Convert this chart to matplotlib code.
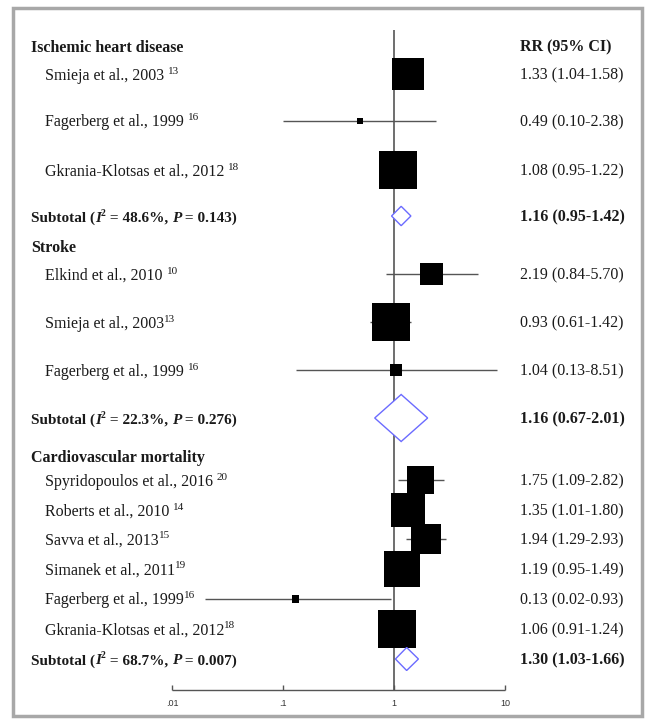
"""
Forest plot: relative risk of cardiovascular outcomes by study.
"""

import numpy as np
import matplotlib
matplotlib.use('Agg')
import matplotlib.pyplot as plt
from matplotlib.patches import Polygon, Rectangle

# data
groups = ['Ischemic heart disease', 'Stroke', 'Cardiovascular mortality']
study_names = ['Smieja et al., 2003 ', 'Fagerberg et al., 1999 ', 'Gkrania-Klotsas et al., 2012 ',
               'Elkind et al., 2010 ', 'Smieja et al., 2003', 'Fagerberg et al., 1999 ',
               'Spyridopoulos et al., 2016 ', 'Roberts et al., 2010 ', 'Savva et al., 2013',
               'Simanek et al., 2011', 'Fagerberg et al., 1999', 'Gkrania-Klotsas et al., 2012']
study_refs = ['13', '16', '18', '10', '13', '16', '20', '14', '15', '19', '16', '18']
rr = [1.33, 0.49, 1.08, 2.19, 0.93, 1.04, 1.75, 1.35, 1.94, 1.19, 0.13, 1.06]
rr_lo = [1.04, 0.10, 0.95, 0.84, 0.61, 0.13, 1.09, 1.01, 1.29, 0.95, 0.02, 0.91]
rr_hi = [1.58, 2.38, 1.22, 5.70, 1.42, 8.51, 2.82, 1.80, 2.93, 1.49, 0.93, 1.24]
weights = [70.9, 2.5, 100, 36.6, 100, 10, 50.5, 80, 62.3, 89.8, 3.4, 100]
sub_i2 = ['48.6%', '22.3%', '68.7%']
sub_p = ['0.143', '0.276', '0.007']
sub_rr = [1.16, 1.16, 1.30]
sub_lo = [0.95, 0.67, 1.03]
sub_hi = [1.42, 2.01, 1.66]
ticks = [0.01, 0.1, 1, 10]
tick_labels = ['.01', '.1', '1', '10']

# layout (pixel rows)
W, H = 647, 723
header_y = [46, 247, 456]
study_y = [74, 121, 170, 274, 322, 370, 480, 510, 539, 569, 599, 629]
sub_y = [216, 418, 659]
axis_y = 690
dec = 111  # pixels per decade
serif = 'Liberation Serif'
fsize = 11.5
sup_size = 8
txt_col = '#1a1a1a'

fig = plt.figure(figsize=(W / 100, H / 100), dpi=100)
ax = fig.add_axes([0, 0, 1, 1])
ax.set_xscale('log')
ax.set_xlim(10 ** (-2 - 172 / dec), 10 ** (1 + (W - 505) / dec))
ax.set_ylim(H, 0)
ax.axis('off')
tr = ax.get_yaxis_transform()
renderer = fig.canvas.get_renderer()


def text_width(s, **kw):
    # measure with a sentinel so trailing spaces count
    t1 = ax.text(0, 0, s + '|', **kw)
    t2 = ax.text(0, 0, '|', **kw)
    w = t1.get_window_extent(renderer).width - t2.get_window_extent(renderer).width
    t1.remove()
    t2.remove()
    return w


def rich(xp, y, parts):
    for s, kw in parts:
        kw = dict(kw)
        dy = kw.pop('dy', 0)
        kw.setdefault('family', serif)
        kw.setdefault('size', fsize)
        kw.setdefault('color', txt_col)
        ax.text(xp / W, y + 5.5 - dy, s, transform=tr, va='baseline', ha='left', **kw)
        xp += text_width(s, family=kw['family'], size=kw['size'],
                         weight=kw.get('weight', 'normal'), style=kw.get('style', 'normal'))


# headers
for g, y in zip(groups, header_y):
    rich(31, y, [(g, dict(weight='bold'))])
rich(520, header_y[0], [('RR (95% CI)', dict(weight='bold'))])

# studies
ax.vlines(1, 30, axis_y, color='#555555', lw=1.2, zorder=1)
ax.hlines(study_y, rr_lo, rr_hi, color='#555555', lw=1, zorder=2)
sides = 38 * np.sqrt(np.array(weights) / 100) * 0.72
ax.scatter(rr, study_y, marker='s', s=sides ** 2, c='black', linewidths=0, zorder=3)
for name, ref, y, r, lo, hi in zip(study_names, study_refs, study_y, rr, rr_lo, rr_hi):
    rich(45, y, [(name, {}), (ref, dict(size=sup_size, dy=6))])
    rich(520, y, [(f"{r:.2f} ({lo:.2f}-{hi:.2f})", {})])

# subtotals
for y, i2, p, r, lo, hi in zip(sub_y, sub_i2, sub_p, sub_rr, sub_lo, sub_hi):
    b = dict(weight='bold', size=11)
    bi = dict(weight='bold', style='italic', size=11)
    rich(31, y, [('Subtotal (', b), ('I', bi), ('2', dict(weight='bold', size=7, dy=6)),
                 (f' = {i2}, ', b), ('P', bi), (f' = {p})', b)])
    rich(520, y, [(f"{r:.2f} ({lo:.2f}-{hi:.2f})", dict(weight='bold'))])
    half = dec * (np.log10(hi) - np.log10(lo)) / 2
    h = min(half, 23.5)
    ax.add_patch(Polygon([(lo, y), (r, y - h), (hi, y), (r, y + h)], closed=True,
                         facecolor='white', edgecolor='#6b6bff', lw=1, zorder=4))

# x axis
ax.hlines(axis_y, ticks[0], ticks[-1], color='#555555', lw=1)
ax.vlines(ticks, axis_y - 5, axis_y, color='#555555', lw=1)
for t, lab in zip(ticks, tick_labels):
    ax.text(t, axis_y + 13, lab, ha='center', va='center', family='Liberation Sans',
            size=6.5, color='#333333')

# frame
fig.patches.append(Rectangle((13 / W, 1 - 716 / H), (642 - 13) / W, (716 - 8) / H,
                             transform=fig.transFigure, fill=False, ec='#a8a8a8', lw=2.5))

fig.savefig('out.png', dpi=100)
